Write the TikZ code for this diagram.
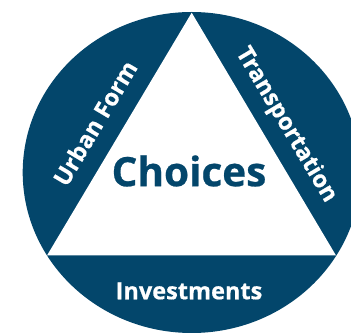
\documentclass[tikz,border=0pt]{standalone}
\usepackage{fontspec}
\setmainfont{Open Sans}[BoldFeatures={FakeBold=0.6}]
\definecolor{navy}{HTML}{03466B}
\begin{document}
\begin{tikzpicture}[x=1pt,y=-1pt,
  lbl/.style={text=white,font=\bfseries\fontsize{23.5}{23.5}\selectfont,inner sep=0pt}]
\useasboundingbox (0,0) rectangle (351,336);
\clip (0,0) rectangle (351,336);
\fill[navy] (191.7,172.5) ellipse [x radius=169, y radius=160.5];
\fill[white] (191.7,12.7) -- (47,255.5) -- (336,255.5) -- cycle;
\node[lbl] (inv) at (189,291) {Investments};
\node[lbl,rotate=59.3] (urban) at (95,123) {Urban Form};
\node[lbl,rotate=-59.2] (trans) at (286,125) {Transportation};
\node[text=navy,font=\bfseries\fontsize{40.5}{40.5}\selectfont,inner sep=0pt] (ch) at (189,171) {Choices};
\end{tikzpicture}
\end{document}
